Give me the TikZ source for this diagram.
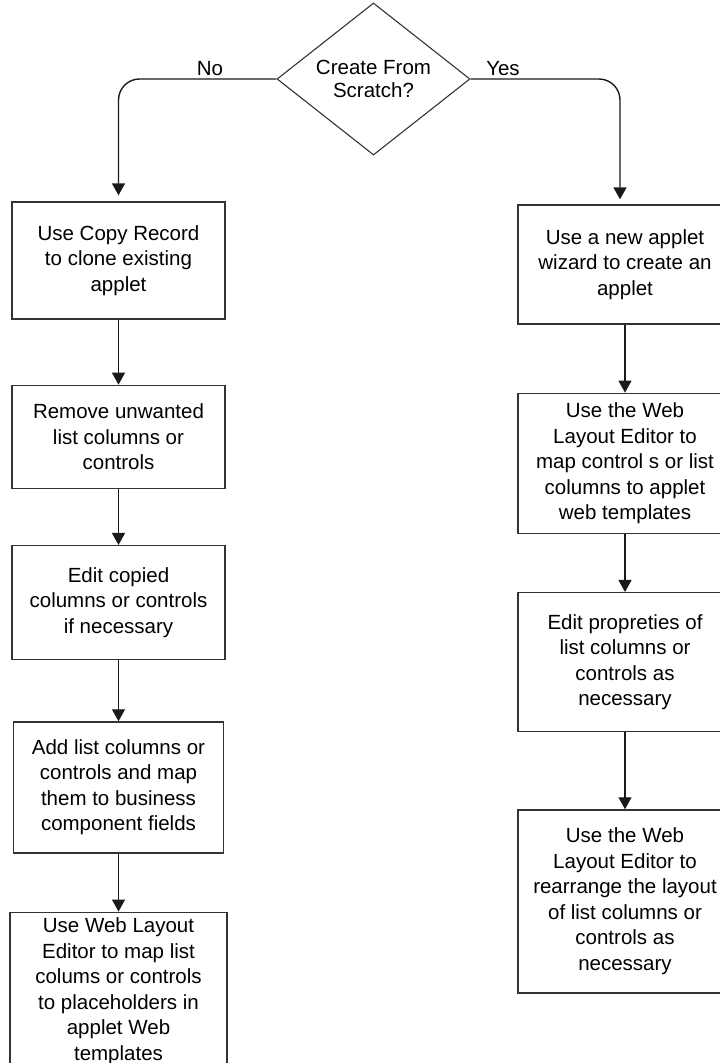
\documentclass[tikz,border=0pt]{standalone}
\usepackage{fontspec}
\setmainfont{Liberation Sans}
\usepackage{tikz}
\usetikzlibrary{
  arrows.meta,
  shapes.geometric,
  positioning
}
\definecolor{fcLine}{HTML}{1A1A1A}
\definecolor{fcBox}{HTML}{333333}
\tikzset{
  stepbox/.style={
    draw=fcBox, line width=1.3pt, minimum width=213pt, inner sep=0pt,
    align=center, font=\fontsize{20.5}{25.5}\selectfont
  },
  decision/.style={
    draw=fcBox, line width=1.1pt, diamond, inner sep=0pt,
    minimum width=193pt, minimum height=142pt,
    align=center, font=\fontsize{20.5}{22.5}\selectfont
  },
  flow/.style={-{Triangle[length=12pt,width=13pt]}, line width=1.4pt, fcLine},
  tag/.style={font=\fontsize{20.5}{22.5}\selectfont, inner sep=1pt}
}

\begin{document}
\begin{tikzpicture}[x=1pt, y=-1pt]
  \useasboundingbox (0,0) rectangle (720,1063);
  \clip (0,0) rectangle (720,1063);

  \node[decision] (scratch) at (373.5,79) {Create From\\Scratch?};

  % copy branch
  \node[stepbox, minimum height=117pt] (copy) at (118.5,260.5)
    {Use Copy Record\\to clone existing\\applet};
  \node[stepbox, minimum height=103pt, below=65pt of copy] (remove)
    {Remove unwanted\\list columns or\\controls};
  \node[stepbox, minimum height=114pt, below=56pt of remove] (editcopy)
    {Edit copied\\columns or controls\\if necessary};
  \node[stepbox, minimum height=131pt, minimum width=210pt, below=61pt of editcopy] (addcols)
    {Add list columns or\\controls and map\\them to business\\component fields};
  \node[stepbox, minimum height=158pt, minimum width=217pt, below=58pt of addcols] (maplist)
    {Use Web Layout\\Editor to map list\\colums or controls\\to placeholders in\\applet Web\\templates};

  % wizard branch
  \node[stepbox, minimum height=119pt, minimum width=214pt] (wizard) at (625,264.5)
    {Use a new applet\\wizard to create an\\applet};
  \node[stepbox, minimum height=140pt, minimum width=214pt, below=68pt of wizard] (mapctrl)
    {Use the Web\\Layout Editor to\\map control s or list\\columns to applet\\web templates};
  \node[stepbox, minimum height=139pt, minimum width=214pt, below=58pt of mapctrl] (editprops)
    {Edit propreties of\\list columns or\\controls as\\necessary};
  \node[stepbox, minimum height=183pt, minimum width=214pt, below=77pt of editprops] (rearrange)
    {Use the Web\\Layout Editor to\\rearrange the layout\\of list columns or\\controls as\\necessary};

  \draw[flow, rounded corners=21pt, shorten >=6pt] (scratch.west) -| (copy.north);
  \draw[flow, rounded corners=21pt, shorten >=5pt] (scratch.east) -| ([xshift=-5pt]wizard.north);
  \node[tag, above=3pt] (nolbl) at (210,80) {No};
  \node[tag, above=3pt] (yeslbl) at (503,80) {Yes};

  \foreach \s/\e in {copy/remove, remove/editcopy, editcopy/addcols, addcols/maplist,
                     wizard/mapctrl, mapctrl/editprops, editprops/rearrange}{
    \draw[flow] (\s) -- (\e);
  }
\end{tikzpicture}
\end{document}
